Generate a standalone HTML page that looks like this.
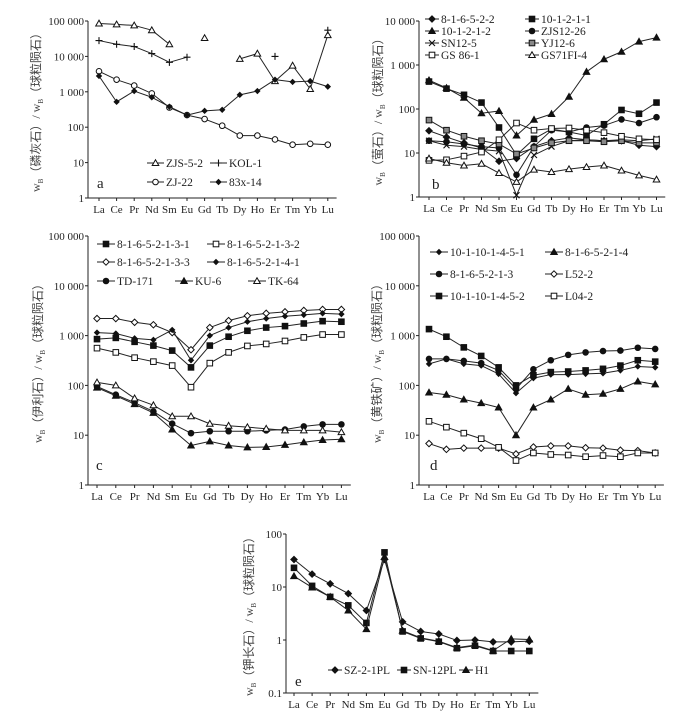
<!DOCTYPE html>
<html><head><meta charset="utf-8"><style>
html,body{margin:0;padding:0;background:#fff}
svg{display:block}
text{font-family:"Liberation Serif","Noto Serif CJK SC",serif;fill:#222}
.yl{font-family:"Liberation Serif","Noto Sans CJK SC",sans-serif;fill:#444}
</style></head><body>
<svg id="chart" width="700" height="721" viewBox="0 0 700 721" xmlns="http://www.w3.org/2000/svg"></svg>
<script>
const categories=["La","Ce","Pr","Nd","Sm","Eu","Gd","Tb","Dy","Ho","Er","Tm","Yb","Lu"];
// Panel a
const aZJS52=[85000,80000,75000,55000,22000,null,33000,null,8500,12000,2000,5500,1200,40000];
const aKOL1=[28000,22000,19000,12000,6800,9500,null,null,null,null,10000,null,null,55000];
const aZJ22=[3800,2200,1500,900,360,220,170,110,58,58,45,32,34,32];
const a83x14=[2800,520,1050,700,380,220,290,310,820,1050,2200,1900,2000,1400];
// Panel b
const b81652_2=[32,23,17,13,6.5,7.5,14,19,22,20,19,19,15,14];
const b1012_11=[420,290,210,140,38,9,21,35,30,25,45,95,78,140];
const b1012_12=[450,300,180,80,90,25,57,77,190,700,1350,2000,3400,4200];
const bZJS1226=[19,18,16,14,13,3.2,14,33,30,38,42,58,48,65];
const bSN125=[19,15,14,12,11,1.1,9,14,19,20,19,20,19,21];
const bYJ126=[56,33,24,19,16,9.5,13,17,19,19,18,19,17,17];
const bGS861=[6.8,7,8.5,10.5,20,48,33,36,37,33,29,24,21,20];
const bGS71FI4=[7.5,6,5.2,5.7,3.5,2.2,4.2,3.7,4.3,4.8,5.2,4,3.1,2.5];
// Panel c
const c131=[850,900,750,630,500,230,630,950,1250,1450,1550,1750,1950,1900];
const c132=[560,460,360,300,250,92,280,460,620,680,780,920,1050,1050];
const c133=[2200,2200,1850,1650,1150,520,1450,2000,2500,2800,3000,3200,3350,3350];
const c141=[1150,1100,880,820,1300,320,1000,1450,1900,2200,2450,2600,2800,2700];
const cTD171=[95,65,45,30,17,11,12,12,12,12.5,13,15,16.5,16.5];
const cKU6=[90,62,42,28,13,6.2,7.5,6.2,5.7,5.8,6.4,7.2,8,8.3];
const cTK64=[115,100,55,40,24,24,17,15.5,14.5,13.5,12.5,12.5,12.5,11.5];
// Panel d
const d451=[270,340,270,250,170,70,140,165,165,170,175,200,240,230];
const d214=[72,65,52,44,36,10,36,52,85,65,68,85,120,105];
const d213=[340,340,310,280,200,85,210,320,410,460,490,500,570,540];
const dL522=[6.8,5.2,5.5,5.5,5.5,4.2,5.8,6.1,6.1,5.6,5.5,5,4.9,4.4];
const d452=[1350,950,580,390,230,100,160,185,190,200,215,250,320,300];
const dL042=[19,14.5,11,8.5,5.7,3.1,4.4,4.1,4,3.7,3.9,3.7,4.4,4.4];
// Panel e
const eSZ21PL=[33,17.5,11.5,7.5,3.6,33,2.2,1.45,1.3,0.98,1.0,0.92,0.92,0.95];
const eSN12PL=[23,10.5,6.5,4.5,2.1,45,1.45,1.07,0.93,0.7,0.78,0.62,0.62,0.62];
const eH1=[16,9.8,6.5,3.6,1.6,37,1.5,1.1,0.95,0.72,0.8,0.63,1.05,1.02];
const tickA=["1","10","100","1 000","10 000","100 000"];
const tickB=["1","10","100","1 000","10 000"];
const tickE=["0.1","1","10","100"];

const NS="http://www.w3.org/2000/svg";
const svg=document.getElementById('chart');
function el(tag,attrs,parent){const e=document.createElementNS(NS,tag);for(const k in attrs)e.setAttribute(k,attrs[k]);(parent||svg).appendChild(e);return e;}

function marker(g,type,x,y){
  const s='#111';let m;
  if(type==='tri'||type==='otri'){m=el('polygon',{points:`${x},${y-3.3} ${x-3.3},${y+2.5} ${x+3.3},${y+2.5}`,fill:type==='tri'?s:'#fff',stroke:s,'stroke-width':1},g);}
  else if(type==='sq'||type==='osq'){m=el('rect',{x:x-2.8,y:y-2.8,width:5.6,height:5.6,fill:type==='sq'?s:'#fff',stroke:s,'stroke-width':1},g);}
  else if(type==='gsq'){m=el('rect',{x:x-2.8,y:y-2.8,width:5.6,height:5.6,fill:'#888',stroke:s,'stroke-width':1},g);}
  else if(type==='circ'||type==='ocirc'){m=el('circle',{cx:x,cy:y,r:2.8,fill:type==='circ'?s:'#fff',stroke:s,'stroke-width':1},g);}
  else if(type==='gcirc'){m=el('circle',{cx:x,cy:y,r:2.8,fill:'#777',stroke:s,'stroke-width':1},g);}
  else if(type==='dia'||type==='odia'||type==='sdia'){const r=type==='sdia'?2.5:3.2;m=el('polygon',{points:`${x},${y-r} ${x+r},${y} ${x},${y+r} ${x-r},${y}`,fill:type==='odia'?'#fff':s,stroke:s,'stroke-width':1},g);}
  else if(type==='plus'){m=el('path',{d:`M${x-3.5},${y}H${x+3.5}M${x},${y-3.5}V${y+3.5}`,stroke:s,'stroke-width':1.1,fill:'none'},g);}
  else if(type==='x'){m=el('path',{d:`M${x-3},${y-3}L${x+3},${y+3}M${x+3},${y-3}L${x-3},${y+3}`,stroke:s,'stroke-width':1.1,fill:'none'},g);}
  
  
}

function panel(p){
  const g=el('g',{});
  
  
  const dec=(p.y0-p.yTop)/(p.ticks.length-1);
  const yS=v=>p.y0-(Math.log10(v)-p.logMin)*dec;
  const xS=i=>p.xLa+i*p.dx;
  const right=xS(13)+p.dx*0.5;
  const ax=el('path',{d:`M${p.ax},${p.yTop}V${p.y0}H${right}`,stroke:'#222','stroke-width':1,fill:'none'},g);
  
  p.ticks.forEach((t,k)=>{const y=p.y0-k*dec;
    el('line',{x1:p.ax-3,x2:p.ax,y1:y,y2:y,stroke:'#222'},g);
    const tx=el('text',{x:p.ax-4,y:y+4,'text-anchor':'end','font-size':11},g);tx.textContent=t;
    });
  categories.forEach((c,i)=>{const x=xS(i);
    el('line',{x1:x,x2:x,y1:p.y0,y2:p.y0+3,stroke:'#222'},g);
    const tx=el('text',{x:x,y:p.y0+15,'text-anchor':'middle','font-size':11},g);tx.textContent=c;
    });
  const yl=el('text',{class:'yl',transform:`translate(${p.ylx},${(p.yTop+p.y0)/2}) rotate(-90)`,'text-anchor':'middle','font-size':12},g);
  yl.innerHTML=`w<tspan font-size="7" dy="3">B</tspan><tspan dy="-3">（${p.mineral}）/ w</tspan><tspan font-size="7" dy="3">B</tspan><tspan dy="-3">（球粒陨石）</tspan>`;
  
  const lt=el('text',{x:p.lx,y:p.ly,'font-size':15},g);lt.textContent=p.letter;
  
  p.series.forEach(s=>{
    const sg=el('g',{},g);
    
    
    for(let i=0;i<13;i++){if(s.d[i]!=null&&s.d[i+1]!=null)el('line',{x1:xS(i),y1:yS(s.d[i]),x2:xS(i+1),y2:yS(s.d[i+1]),stroke:'#222','stroke-width':1},sg);}
    s.d.forEach((v,i)=>{if(v!=null)marker(sg,s.m,xS(i),yS(v));});
    const lg=el('g',{},g);
    
    
    el('line',{x1:s.lx,x2:s.lx+s.lw,y1:s.ly,y2:s.ly,stroke:'#222'},lg);
    marker(lg,s.m,s.lx+s.lw/2,s.ly);
    const t=el('text',{x:s.lx+s.lw+2,y:s.ly+4,'font-size':11.5,'font-family':'Liberation Sans, sans-serif'},lg);t.textContent=s.name;
  });
}

panel({letter:'a',mineral:'磷灰石',ax:88,yTop:21,y0:198,logMin:0,ticks:tickA,xLa:99,dx:17.6,ylx:40,lx:97,ly:188,series:[
 {name:'ZJS-5-2',d:aZJS52,m:'otri',lx:147,ly:163,lw:17},
 {name:'KOL-1',d:aKOL1,m:'plus',lx:210,ly:163,lw:17},
 {name:'ZJ-22',d:aZJ22,m:'ocirc',lx:147,ly:182,lw:17},
 {name:'83x-14',d:a83x14,m:'sdia',lx:210,ly:182,lw:17}]});
panel({letter:'b',mineral:'萤石',ax:419,yTop:21,y0:197,logMin:0,ticks:tickB,xLa:429,dx:17.5,ylx:382,lx:432,ly:189,series:[
 {name:'8-1-6-5-2-2',d:b81652_2,m:'dia',lx:425,ly:19,lw:14},
 {name:'10-1-2-1-1',d:b1012_11,m:'sq',lx:525,ly:19,lw:14},
 {name:'10-1-2-1-2',d:b1012_12,m:'tri',lx:425,ly:31,lw:14},
 {name:'ZJS12-26',d:bZJS1226,m:'circ',lx:525,ly:31,lw:14},
 {name:'SN12-5',d:bSN125,m:'x',lx:425,ly:43,lw:14},
 {name:'YJ12-6',d:bYJ126,m:'gsq',lx:525,ly:43,lw:14},
 {name:'GS 86-1',d:bGS861,m:'osq',lx:425,ly:55,lw:14},
 {name:'GS71FI-4',d:bGS71FI4,m:'otri',lx:525,ly:55,lw:14}]});
panel({letter:'c',mineral:'伊利石',ax:88,yTop:236,y0:485,logMin:0,ticks:tickA,xLa:97,dx:18.8,ylx:42,lx:96,ly:470,series:[
 {name:'8-1-6-5-2-1-3-1',d:c131,m:'sq',lx:97,ly:244,lw:18},
 {name:'8-1-6-5-2-1-3-2',d:c132,m:'osq',lx:207,ly:244,lw:18},
 {name:'8-1-6-5-2-1-3-3',d:c133,m:'odia',lx:97,ly:262,lw:18},
 {name:'8-1-6-5-2-1-4-1',d:c141,m:'sdia',lx:207,ly:262,lw:18},
 {name:'TD-171',d:cTD171,m:'circ',lx:97,ly:281,lw:18},
 {name:'KU-6',d:cKU6,m:'tri',lx:175,ly:281,lw:18},
 {name:'TK-64',d:cTK64,m:'otri',lx:248,ly:281,lw:18}]});
panel({letter:'d',mineral:'黄铁矿',ax:419,yTop:236,y0:485,logMin:0,ticks:tickA,xLa:429,dx:17.4,ylx:381,lx:430,ly:470,series:[
 {name:'10-1-10-1-4-5-1',d:d451,m:'sdia',lx:430,ly:252,lw:18},
 {name:'8-1-6-5-2-1-4',d:d214,m:'tri',lx:545,ly:252,lw:18},
 {name:'8-1-6-5-2-1-3',d:d213,m:'circ',lx:430,ly:274,lw:18},
 {name:'L52-2',d:dL522,m:'odia',lx:545,ly:274,lw:18},
 {name:'10-1-10-1-4-5-2',d:d452,m:'sq',lx:430,ly:296,lw:18},
 {name:'L04-2',d:dL042,m:'osq',lx:545,ly:296,lw:18}]});
panel({letter:'e',mineral:'钾长石',ax:286,yTop:534,y0:693,logMin:-1,ticks:tickE,xLa:294,dx:18.1,ylx:253,lx:295,ly:686,series:[
 {name:'SZ-2-1PL',d:eSZ21PL,m:'dia',lx:328,ly:670,lw:14},
 {name:'SN-12PL',d:eSN12PL,m:'sq',lx:397,ly:670,lw:14},
 {name:'H1',d:eH1,m:'tri',lx:459,ly:670,lw:14}]});
</script>
</body></html>
